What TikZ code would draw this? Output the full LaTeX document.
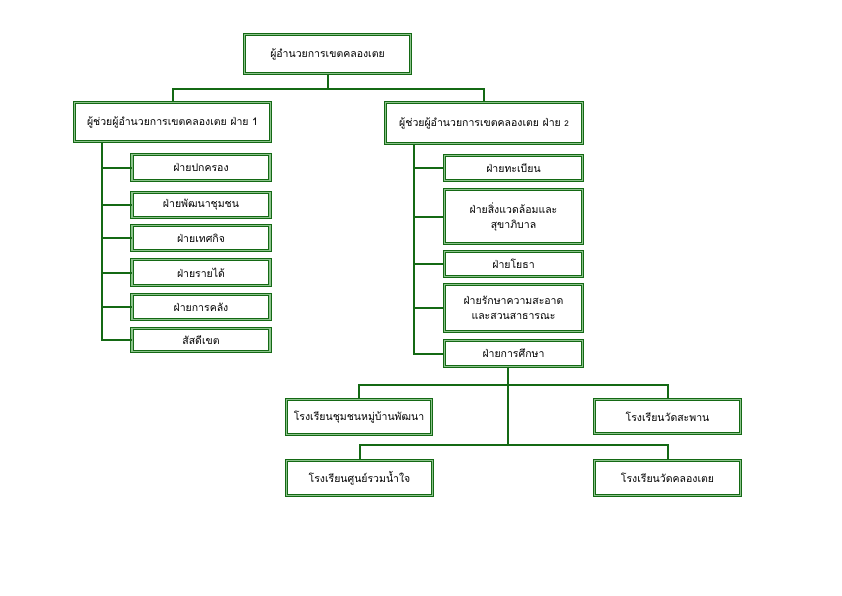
\documentclass[tikz,border=0pt]{standalone}
\usepackage{fontspec}
\setmainfont[Script=Thai]{Loma}
\definecolor{darkgreen}{RGB}{20,105,20}
\definecolor{lightgreen}{RGB}{140,195,140}
\tikzset{
  orgbox/.style={draw=darkgreen, double=lightgreen, double distance=1.8pt,
    line width=0.7pt, fill=white, align=center, font=\fontsize{10.5}{15}\selectfont,
    inner sep=2pt},
  link/.style={draw=darkgreen, line width=2pt}
}
\begin{document}
\begin{tikzpicture}[x=1pt,y=-1pt]
    \useasboundingbox (0,0) rectangle (842,595);
    % top level
    \node[orgbox, minimum width=166pt, minimum height=39pt] (head) at (327.5,54) {ผู้อำนวยการเขตคลองเตย};
    \node[orgbox, minimum width=196pt, minimum height=39pt] (asst1) at (172.5,122) {ผู้ช่วยผู้อำนวยการเขตคลองเตย ฝ่าย 1};
    \node[orgbox, minimum width=197pt, minimum height=41pt] (asst2) at (484,123) {ผู้ช่วยผู้อำนวยการเขตคลองเตย ฝ่าย {\footnotesize 2}};
    % left column
    \node[orgbox, minimum width=138pt, minimum height=26pt] (gov) at (201,167.5) {ฝ่ายปกครอง};
    \node[orgbox, minimum width=138pt, minimum height=25pt] (comm) at (201,205) {ฝ่ายพัฒนาชุมชน};
    \node[orgbox, minimum width=138pt, minimum height=25pt] (city) at (201,238) {ฝ่ายเทศกิจ};
    \node[orgbox, minimum width=138pt, minimum height=26pt] (rev) at (201,272.5) {ฝ่ายรายได้};
    \node[orgbox, minimum width=138pt, minimum height=25pt] (fin) at (201,307) {ฝ่ายการคลัง};
    \node[orgbox, minimum width=138pt, minimum height=23pt] (mil) at (201,340) {สัสดีเขต};
    % right column
    \node[orgbox, minimum width=138pt, minimum height=25pt] (reg) at (513.5,168) {ฝ่ายทะเบียน};
    \node[orgbox, minimum width=138pt, minimum height=54pt] (env) at (513.5,216.5) {ฝ่ายสิ่งแวดล้อมและ\\สุขาภิบาล};
    \node[orgbox, minimum width=138pt, minimum height=25pt] (works) at (513.5,264) {ฝ่ายโยธา};
    \node[orgbox, minimum width=138pt, minimum height=47pt] (clean) at (513.5,308) {ฝ่ายรักษาความสะอาด\\และสวนสาธารณะ};
    \node[orgbox, minimum width=138pt, minimum height=26pt] (edu) at (513.5,353.5) {ฝ่ายการศึกษา};
    % schools
    \node[orgbox, minimum width=145pt, minimum height=35pt] (sch1) at (359,417) {โรงเรียนชุมชนหมู่บ้านพัฒนา};
    \node[orgbox, minimum width=146pt, minimum height=34pt] (sch2) at (667.5,416.5) {โรงเรียนวัดสะพาน};
    \node[orgbox, minimum width=146pt, minimum height=35pt] (sch3) at (359.5,478) {โรงเรียนศูนย์รวมน้ำใจ};
    \node[orgbox, minimum width=146pt, minimum height=35pt] (sch4) at (667.5,478) {โรงเรียนวัดคลองเตย};
    % connectors
    \coordinate (busA) at (327.5,89);
    \coordinate (spineL) at (102,0);
    \coordinate (spineR) at (414,0);
    \coordinate (busS1) at (508,385);
    \coordinate (busS2) at (508,445);
    \draw[link] (head.south) -- (busA);
    \draw[link] (asst1.north) |- (busA) -| (asst2.north);
    \draw[link] (asst1.south -| spineL) -- (spineL |- mil.west) -- (mil.west);
    \foreach \n in {gov,comm,city,rev,fin}
        \draw[link] (spineL |- \n.west) -- (\n.west);
    \draw[link] (asst2.south -| spineR) -- (spineR |- edu.west) -- (edu.west);
    \foreach \n in {reg,env,works,clean}
        \draw[link] (spineR |- \n.west) -- (\n.west);
    \draw[link] (edu.south -| busS1) -- (busS2);
    \draw[link] (sch1.north) |- (busS1) -| (sch2.north);
    \draw[link] (sch3.north) |- (busS2) -| (sch4.north);
\end{tikzpicture}
\end{document}
